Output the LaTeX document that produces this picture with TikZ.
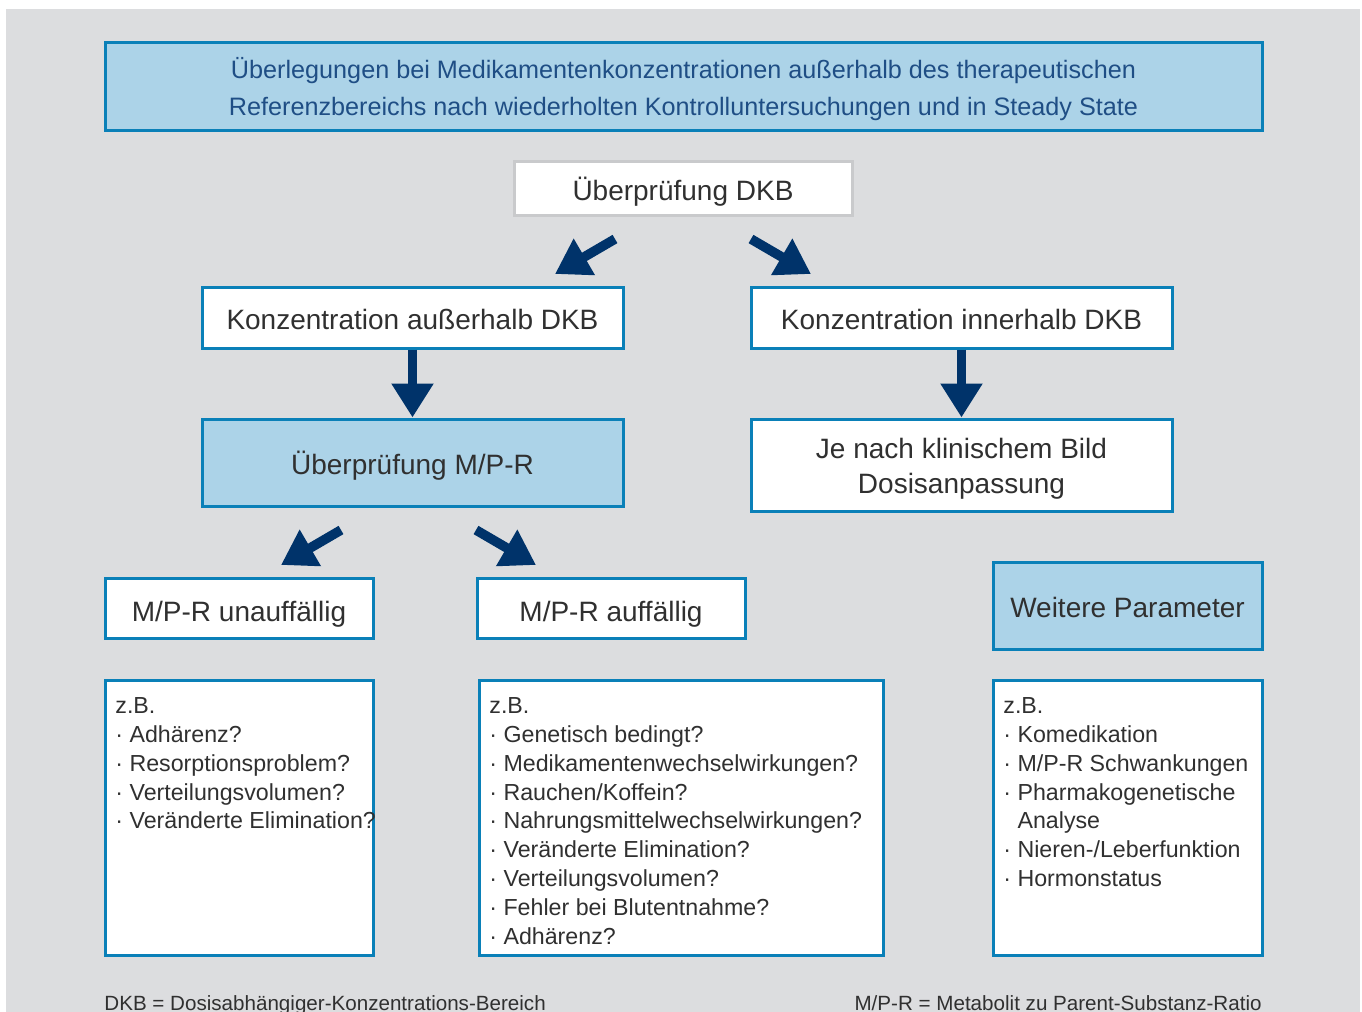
\documentclass[tikz,border=0pt]{standalone}
\usepackage{fontspec}
\setmainfont{Liberation Sans}
\usetikzlibrary{arrows.meta,calc,positioning}

\definecolor{bggray}{HTML}{DCDDDF}
\definecolor{boxblue}{HTML}{ACD3E8}
\definecolor{lineblue}{HTML}{0A80B8}
\definecolor{arrownavy}{HTML}{00336A}
\definecolor{titleblue}{HTML}{1F4E85}
\definecolor{textgray}{HTML}{303030}
\definecolor{framegray}{HTML}{C9CACC}

\tikzset{
  box/.style={draw=lineblue, line width=1.5pt, fill=white, text=textgray, inner sep=0pt, align=center, font=\fontsize{14}{17.5}\selectfont},
  onebox/.style={box, text height=12pt, text depth=0pt},
  bluebox/.style={onebox, fill=boxblue},
  boxtext/.style={inner sep=0pt, align=center, text=textgray},
  listbox/.style={draw=lineblue, line width=1.5pt, fill=white, inner sep=0pt},
  listtext/.style={anchor=north west, inner sep=0pt, align=left, text=textgray, font=\fontsize{11.6}{14.45}\selectfont},
  note/.style={inner sep=0pt, text=textgray, font=\fontsize{10.3}{12}\selectfont},
  bigarrow/.style={draw=arrownavy, line width=4.8pt, -{Triangle[width=20pt,length=17pt]}},
}

\newcommand{\bul}{\textperiodcentered\ }

\begin{document}
\begin{tikzpicture}[x=0.5pt, y=-0.5pt]
  \useasboundingbox (0,0) rectangle (1362,1012);
  \fill[bggray] (6,9) rectangle (1360,1012); % background

  % header
  \node[box, fill=boxblue, minimum width=578.5pt, minimum height=44pt] (head) at (683.5,86) {};
  \node[boxtext, text=titleblue, font=\fontsize{12.6}{18.5}\selectfont] (headtxt) at ($(head.center)+(0,3)$)
    {Überlegungen bei Medikamentenkonzentrationen außerhalb des therapeutischen\\Referenzbereichs nach wiederholten Kontrolluntersuchungen und in Steady State};

  % upper levels
  \node[onebox, draw=framegray, minimum width=169pt, minimum height=27pt] (dkb) at (683,188) {Überprüfung DKB};
  \node[onebox, minimum width=210.5pt, minimum height=30.5pt] (aus) at (412.5,317.5) {Konzentration außerhalb DKB};
  \node[onebox, minimum width=210.5pt, minimum height=30.5pt] (inn) at (961.5,317.5) {Konzentration innerhalb DKB};
  \node[bluebox, minimum width=210.5pt, minimum height=43.5pt] (mpr) at (412.5,462.5) {Überprüfung M/P-R};
  \node[box, minimum width=210.5pt, minimum height=46pt] (dosis) at (961.5,465) {};
  \node[boxtext, font=\fontsize{14}{17.5}\selectfont] (dosistxt) at ($(dosis.center)+(0,4)$) {Je nach klinischem Bild\\Dosisanpassung};

  % lower levels
  \node[onebox, text height=13pt, minimum width=134pt, minimum height=30pt] (unauf) at (239,608) {M/P-R unauffällig};
  \node[onebox, text height=13pt, minimum width=134pt, minimum height=30pt] (auf) at (611,608) {M/P-R auffällig};
  \node[bluebox, minimum width=134.5pt, minimum height=43.5pt] (weitere) at (1127.5,605.5) {Weitere Parameter};

  % example lists
  \node[listbox, minimum width=134pt, minimum height=137.5pt] (list1) at (239,817.5) {};
  \node[listbox, minimum width=202pt, minimum height=137.5pt] (list2) at (681,817.5) {};
  \node[listbox, minimum width=134.5pt, minimum height=137.5pt] (list3) at (1127.5,817.5) {};

  \node[listtext] (txt1) at (115,697) {z.B.\\\bul Adhärenz?\\\bul Resorptionsproblem?\\\bul Verteilungsvolumen?\\\bul Veränderte Elimination?};
  \node[listtext] (txt2) at (489,697) {z.B.\\\bul Genetisch bedingt?\\\bul Medikamentenwechselwirkungen?\\\bul Rauchen/Koffein?\\\bul Nahrungsmittelwechselwirkungen?\\\bul Veränderte Elimination?\\\bul Verteilungsvolumen?\\\bul Fehler bei Blutentnahme?\\\bul Adhärenz?};
  \node[listtext] (txt3) at (1003,697) {z.B.\\\bul Komedikation\\\bul M/P-R Schwankungen\\\bul Pharmakogenetische\\\hphantom{\bul}Analyse\\\bul Nieren-/Leberfunktion\\\bul Hormonstatus};

  % arrows
  \coordinate (a1s) at (615,239);
  \coordinate (a1e) at (555,274);
  \coordinate (a2s) at (751,239);
  \coordinate (a2e) at (811,274);
  \coordinate (a3s) at (341,530);
  \coordinate (a3e) at (281,565);
  \coordinate (a4s) at (476,530);
  \coordinate (a4e) at (536,565);
  \draw[bigarrow] (a1s) -- (a1e);
  \draw[bigarrow] (a2s) -- (a2e);
  \draw[bigarrow] (aus.south) -- (mpr.north);
  \draw[bigarrow] (inn.south) -- (dosis.north);
  \draw[bigarrow] (a3s) -- (a3e);
  \draw[bigarrow] (a4s) -- (a4e);

  % footnotes
  \node[note, anchor=north west] (fn1) at (104,995) {DKB = Dosisabhängiger-Konzentrations-Bereich};
  \node[note, anchor=north east] (fn2) at (1262,995) {M/P-R = Metabolit zu Parent-Substanz-Ratio};
\end{tikzpicture}
\end{document}
